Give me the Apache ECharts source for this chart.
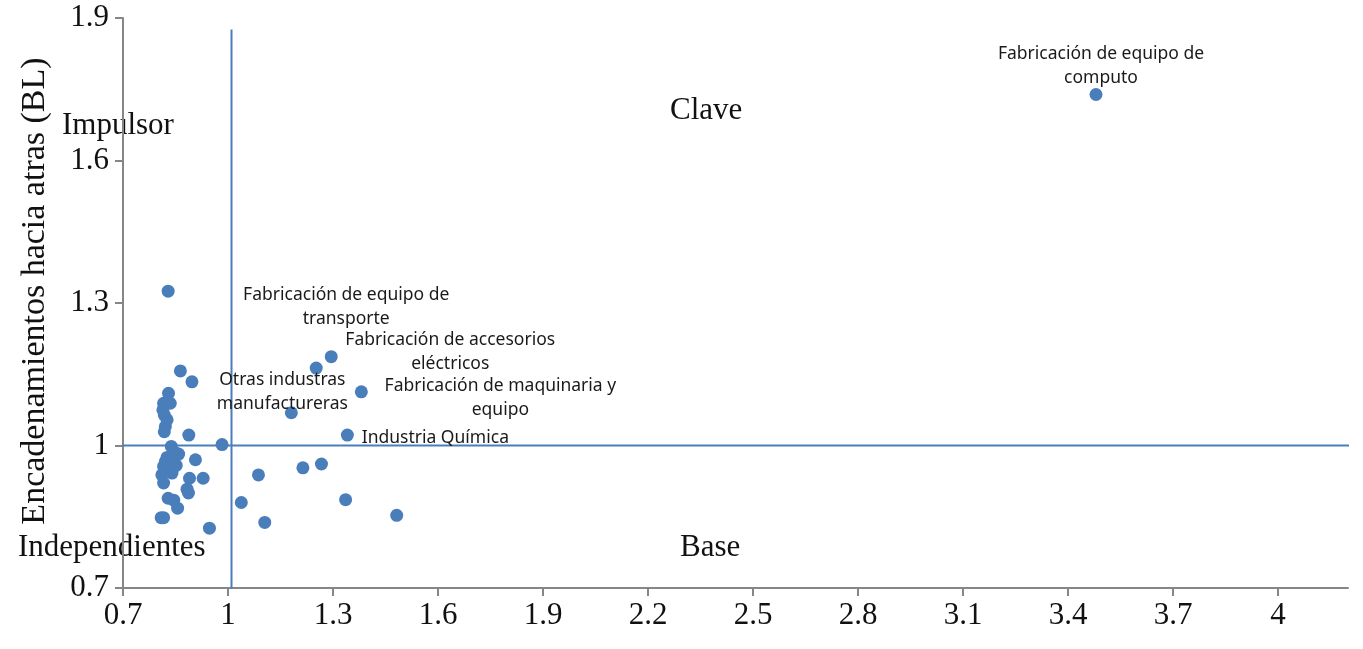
<!DOCTYPE html>
<html>
<head>
<meta charset="utf-8">
<title>Encadenamientos</title>
<script src="https://cdn.jsdelivr.net/npm/echarts@6/dist/echarts.min.js"></script>
<style>
  html, body { margin: 0; padding: 0; background: #fff; }
  #chart { width: 1363px; height: 649px; }
</style>
</head>
<body>
<div id="chart"></div>
<script>
  // tick labels
  const xTicks = [0.7, 1, 1.3, 1.6, 1.9, 2.2, 2.5, 2.8, 3.1, 3.4, 3.7, 4];
  const yTicks = [0.7, 1, 1.3, 1.6, 1.9];

  // labelled sectors: [FL, BL]
  const labelNames = [
    'Fabricación de equipo de\ncomputo',
    'Fabricación de equipo de\ntransporte',
    'Fabricación de accesorios\neléctricos',
    'Fabricación de maquinaria y\nequipo',
    'Industria Química',
    'Otras industras\nmanufactureras'
  ];
  const labelPoints = [
    [3.48, 1.739],
    [1.252, 1.163],
    [1.295, 1.187],
    [1.381, 1.113],
    [1.341, 1.022],
    [1.181, 1.069]
  ];
  // label offset from the dot (px)
  const labelOffsets = [[5, -28], [30, -61], [119, -5], [139, 6], [88, 3], [-9, -21]];

  // the rest of the sectors
  const otherPoints = [
    [0.829, 1.325],
    [0.864, 1.157], [0.897, 1.134], [0.830, 1.110], [0.816, 1.089], [0.835, 1.089],
    [0.814, 1.075], [0.818, 1.064], [0.826, 1.054], [0.821, 1.040], [0.818, 1.029],
    [0.888, 1.022], [0.983, 1.002], [0.838, 0.998], [0.849, 0.985], [0.859, 0.982],
    [0.826, 0.975], [0.821, 0.966], [0.845, 0.968], [0.907, 0.970], [0.816, 0.956],
    [0.835, 0.952], [0.852, 0.958], [0.811, 0.938], [0.840, 0.942], [0.890, 0.931],
    [0.929, 0.931], [0.816, 0.921], [0.883, 0.908], [0.887, 0.900], [0.829, 0.889],
    [0.845, 0.885], [0.856, 0.868], [0.816, 0.848], [0.809, 0.848], [0.947, 0.826],
    [1.087, 0.938], [1.214, 0.953], [1.267, 0.961], [1.038, 0.880], [1.336, 0.886],
    [1.105, 0.838], [1.482, 0.853]
  ];

  // quadrant dividers
  const vLine = [[1.01, 0.692], [1.01, 1.876]];
  const hLine = [[0.692, 1.0], [4.212, 1.0]];

  const blue = '#4a7ebb';
  const serif = '"Liberation Serif", "Times New Roman", serif';
  const sans = '"Noto Sans", "Open Sans", sans-serif';

  const chart = echarts.init(document.getElementById('chart'));

  chart.setOption({
    animation: false,
    grid: { left: 123, right: 15, top: 18, bottom: 61 },
    xAxis: {
      type: 'value',
      min: 0.7,
      max: 4.2,
      interval: 0.3,
      splitLine: { show: false },
      axisLine: { lineStyle: { color: '#868686', width: 2 } },
      axisTick: { customValues: xTicks, length: 8, lineStyle: { color: '#868686', width: 2 } },
      axisLabel: {
        customValues: xTicks,
        margin: 12,
        fontFamily: serif,
        fontSize: 31,
        color: '#111'
      }
    },
    yAxis: {
      type: 'value',
      min: 0.7,
      max: 1.9,
      interval: 0.3,
      splitLine: { show: false },
      axisLine: { show: true, lineStyle: { color: '#868686', width: 2 } },
      axisTick: { show: true, customValues: yTicks, length: 8, lineStyle: { color: '#868686', width: 2 } },
      axisLabel: {
        customValues: yTicks,
        margin: 14,
        fontFamily: serif,
        fontSize: 31,
        color: '#111'
      }
    },
    graphic: [
      {
        type: 'text', x: 35, y: 291, rotation: Math.PI / 2,
        style: {
          text: 'Encadenamientos hacia atras (BL)', font: '34px ' + serif,
          fill: '#111', align: 'center', verticalAlign: 'middle'
        }
      },
      { type: 'text', x: 62, y: 126, style: { text: 'Impulsor', font: '31px ' + serif, fill: '#111', verticalAlign: 'middle' } },
      { type: 'text', x: 670, y: 111, style: { text: 'Clave', font: '31px ' + serif, fill: '#111', verticalAlign: 'middle' } },
      { type: 'text', x: 18, y: 548, style: { text: 'Independientes', font: '31px ' + serif, fill: '#111', verticalAlign: 'middle' } },
      { type: 'text', x: 680, y: 548, style: { text: 'Base', font: '31px ' + serif, fill: '#111', verticalAlign: 'middle' } }
    ],
    series: [
      {
        type: 'line',
        data: vLine,
        symbol: 'none',
        lineStyle: { color: blue, width: 2 },
        z: 1
      },
      {
        type: 'line',
        data: hLine,
        symbol: 'none',
        lineStyle: { color: blue, width: 2 },
        z: 1
      },
      {
        type: 'scatter',
        symbolSize: 13,
        itemStyle: { color: blue, opacity: 1 },
        data: otherPoints,
        z: 3
      },
      {
        type: 'scatter',
        symbolSize: 13,
        itemStyle: { color: blue, opacity: 1 },
        data: labelPoints.map((p, i) => ({
          value: p,
          label: {
            show: true,
            position: 'inside',
            offset: labelOffsets[i],
            formatter: labelNames[i],
            fontFamily: sans,
            fontSize: 17.5,
            lineHeight: 24,
            color: '#1a1a1a',
            align: 'center',
            verticalAlign: 'middle'
          }
        })),
        z: 3
      }
    ]
  });
</script>
</body>
</html>
